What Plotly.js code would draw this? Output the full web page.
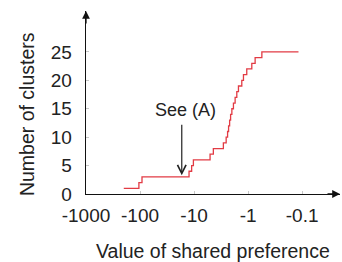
<!DOCTYPE html>
<html>
<head>
<meta charset="utf-8">
<script src="https://cdn.plot.ly/plotly-3.0.1.min.js"></script>
<style>html,body{margin:0;padding:0;background:#fff;}#chart{width:342px;height:262px;}</style>
</head>
<body>
<div id="chart"></div>
<script>
// Shared preference values where the number of clusters changes (step function)
var preference = [-200, -105, -92, -12.4, -11.1, -10.3, -5.06, -4.4, -2.87, -2.55, -2.40, -2.30, -2.20, -2.11, -2.00, -1.87, -1.74, -1.62, -1.51, -1.31, -1.22, -1.06, -0.855, -0.742, -0.557, -0.117];
var clusters   = [1, 2, 3, 4, 5, 6, 7, 8, 9, 10, 11, 12, 13, 14, 15, 16, 17, 18, 19, 20, 21, 22, 23, 24, 25, 25];
var xTickVals  = [-1000, -100, -10, -1, -0.1];
var xTickText  = ['-1000', '-100', '-10', '-1', '-0.1'];
var yTickVals  = [0, 5, 10, 15, 20, 25];
var annotationPref = -16.9;
var annotationClusters = 3.3;

var FONT = 'Liberation Sans, Arial, Helvetica, sans-serif';
var TXT = '#222';

var trace = {
  x: preference.map(function (v) { return -v; }),
  y: clusters,
  type: 'scatter',
  mode: 'lines',
  line: {shape: 'hv', color: '#e23b44', width: 1.3},
  hoverinfo: 'skip'
};

var layout = {
  width: 342, height: 262,
  margin: {l: 86, r: 2, t: 11, b: 68},
  paper_bgcolor: '#fff', plot_bgcolor: '#fff',
  showlegend: false,
  font: {family: FONT, color: TXT, size: 19},
  xaxis: {
    type: 'log',
    range: [3, -1.70],
    tickvals: xTickVals.map(function (v) { return -v; }),
    ticktext: xTickText,
    ticks: 'inside', ticklen: 3, tickcolor: '#c8c8c8', tickwidth: 1,
    showline: true, linecolor: '#111', linewidth: 1.3,
    showgrid: false, zeroline: false,
    tickfont: {family: FONT, size: 19, color: TXT},
    ticklabelstandoff: 4
  },
  yaxis: {
    range: [0, 32.2],
    tickvals: yTickVals,
    ticks: 'inside', ticklen: 3, tickcolor: '#c8c8c8', tickwidth: 1,
    showline: true, linecolor: '#111', linewidth: 1.3,
    showgrid: false, zeroline: false,
    tickfont: {family: FONT, size: 19, color: TXT},
    ticklabelstandoff: 9
  },
  annotations: [
    {xref: 'paper', yref: 'paper', x: -0.232, y: 0.437, text: 'Number of clusters', textangle: -90,
     showarrow: false, xanchor: 'center', yanchor: 'middle', font: {family: FONT, size: 19.5, color: TXT}},
    {xref: 'paper', yref: 'paper', x: 0.5, y: -0.31, text: 'Value of shared preference',
     showarrow: false, xanchor: 'center', yanchor: 'middle', font: {family: FONT, size: 19.5, color: TXT}},
    {xref: 'x', yref: 'y', x: Math.log10(-annotationPref), y: annotationClusters, text: '',
     showarrow: true, ax: 0, ay: -52, arrowhead: 5, arrowsize: 1.4, arrowwidth: 1.2, arrowcolor: '#222'},
    {xref: 'x', yref: 'y', x: Math.log10(-annotationPref), y: annotationClusters, text: 'See (A)',
     showarrow: false, xshift: 4, yshift: 65, xanchor: 'center', yanchor: 'middle',
     font: {family: FONT, size: 18, color: TXT}},
    {xref: 'paper', yref: 'paper', x: 0, y: 1, text: '', showarrow: true, ax: 0, ay: 14,
     arrowhead: 2, arrowsize: 1.2, arrowwidth: 1.3, arrowcolor: '#111'},
    {xref: 'paper', yref: 'paper', x: 1, y: 0, text: '', showarrow: true, ax: -14, ay: 0,
     arrowhead: 2, arrowsize: 1.2, arrowwidth: 1.3, arrowcolor: '#111'}
  ]
};

Plotly.newPlot('chart', [trace], layout, {staticPlot: true, displayModeBar: false});
</script>
</body>
</html>
